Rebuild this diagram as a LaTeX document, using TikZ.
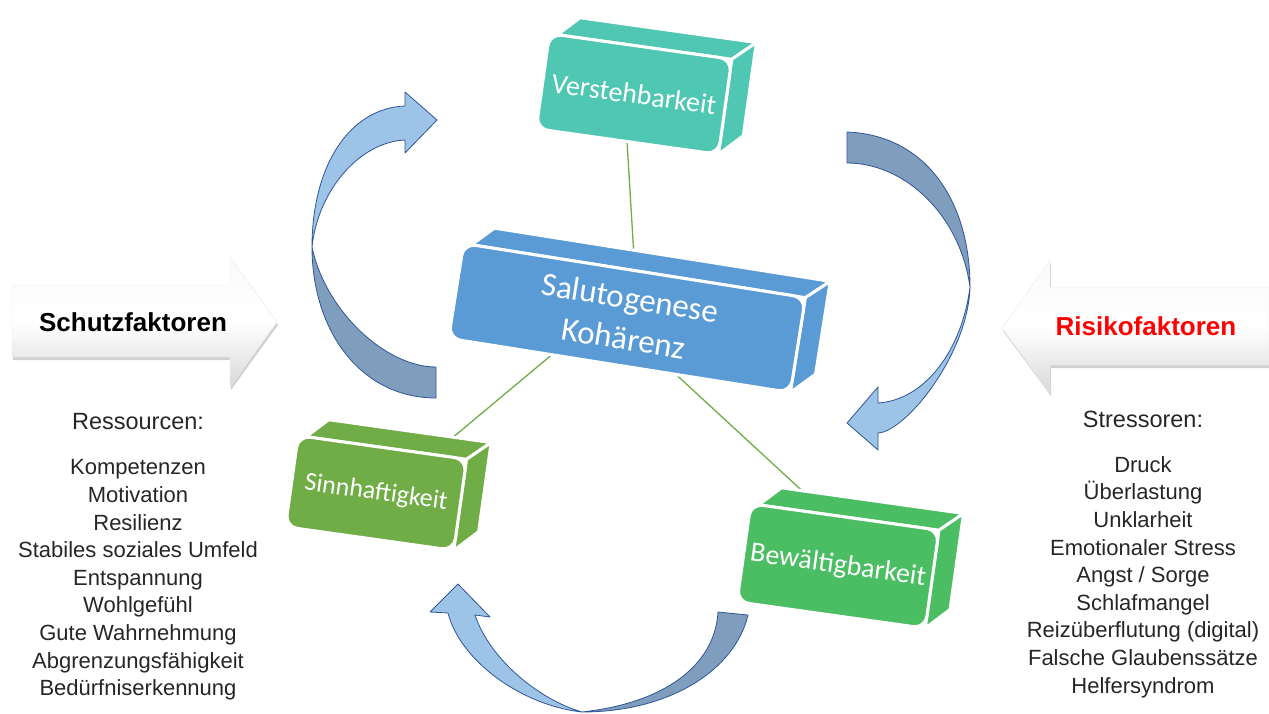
\documentclass[tikz,border=0pt]{standalone}
\usepackage{fontspec}
\setmainfont{Liberation Sans}
\newfontfamily\blockfont{Carlito}
\usepackage{tikz}
\usetikzlibrary{calc}
\usetikzlibrary{shadows}
\usetikzlibrary{backgrounds}
\definecolor{vteal}{RGB}{80,199,178}
\definecolor{sblue}{RGB}{91,155,213}
\definecolor{sgreen}{RGB}{112,173,71}
\definecolor{bgreen}{RGB}{75,190,100}
\definecolor{arrowlight}{RGB}{157,195,230}
\definecolor{arrowdark}{RGB}{127,158,190}
\definecolor{arrowline}{RGB}{47,85,151}
\tikzset{
  block/.style={draw=white,line width=3pt,rounded corners=12pt,inner sep=0pt,text=white,align=center},
  link/.style={draw=sgreen,line width=1.3pt},
  lightpart/.style={fill=arrowlight,draw=arrowline,line width=0.8pt,line join=round},
  darkpart/.style={fill=arrowdark,draw=arrowline,line width=0.8pt,line join=round},
  bigarrow/.style={top color=black!2,bottom color=black!15,middle color=white,draw=black!8,
    drop shadow={shadow xshift=1pt,shadow yshift=-3pt,opacity=.3,fill=black!60}},
  factor/.style={font=\bfseries\fontsize{26}{30}\selectfont},
  listtext/.style={align=center,text=black!85,font=\fontsize{22}{27.6}\selectfont}
}
\newcommand{\createblock}[8]{%
  \begin{scope}[shift={(#2)},rotate=#3]
    \filldraw[#6,draw=white,line width=3pt] (-#4/2+8,-#5/2) -- (-#4/2+28,-#5/2-20) -- (#4/2+22,-#5/2-20) -- (#4/2,-#5/2) -- cycle;
    \filldraw[#6,draw=white,line width=3pt] (#4/2,-#5/2) -- (#4/2+22,-#5/2-20) -- (#4/2+22,#5/2-22) -- (#4/2,#5/2) -- cycle;
    \node[block,fill=#6,minimum width=#4,minimum height=#5,transform shape,font={\blockfont#7}] (#1) at (0,0) {#8};
  \end{scope}}

\begin{document}
\begin{tikzpicture}[x=1pt,y=-1pt]
    \useasboundingbox (0,0) rectangle (1269,714);
    % Schutz- und Risikofaktoren
    \path[bigarrow] (12,285) -- (230,285) -- (230,257) -- (277,322) -- (230,387) -- (230,357) -- (12,357) -- cycle;
    \path[bigarrow] (1269,287) -- (1050,287) -- (1050,260) -- (1002,328) -- (1050,393) -- (1050,365) -- (1269,365) -- cycle;
    \node[factor] (schutz) at (133,322) {Schutzfaktoren};
    \node[factor,text=red] (risiko) at (1146,326) {Risikofaktoren};
    % kreislauf
    \filldraw[darkpart] (436,398) .. controls (360,398) and (312,330) .. (312,247) .. controls (325,310) and (385,367) .. (436,367) -- cycle;
    \filldraw[lightpart] (312,247) .. controls (312,165) and (350,108) .. (405,106) -- (405,92) -- (437,120) -- (405,153) -- (405,140) .. controls (360,142) and (318,190) .. (312,247) -- cycle;
    \filldraw[darkpart] (847,132) .. controls (925,135) and (970,200) .. (970,287) .. controls (960,215) and (905,163) .. (847,163) -- cycle;
    \filldraw[lightpart] (970,287) .. controls (968,355) and (905,432) .. (878,433) -- (878,450) -- (847,423) -- (878,387) -- (878,403) .. controls (925,400) and (962,350) .. (970,287) -- cycle;
    \filldraw[darkpart] (748,615) .. controls (735,670) and (670,712) .. (582,712) .. controls (665,703) and (715,665) .. (718,612) -- cycle;
    \filldraw[lightpart] (582,712) .. controls (520,705) and (460,660) .. (448,613) -- (430,612) -- (458,584) -- (490,617) -- (475,615) .. controls (490,660) and (540,700) .. (582,712) -- cycle;
    % bloecke
    \createblock{verst}{634,94}{-8}{184}{96}{vteal}{\fontsize{28}{32}\selectfont}{Verstehbarkeit}
    \createblock{saluto}{627,318}{-9}{346}{96}{sblue}{\fontsize{33}{41}\selectfont}{Salutogenese\\Kohärenz}
    \createblock{sinn}{376,493}{-8}{170}{92}{sgreen}{\fontsize{26}{30}\selectfont}{Sinnhaftigkeit}
    \createblock{bewael}{838,566}{-8}{190}{99}{bgreen}{\fontsize{28}{32}\selectfont}{Bewältigbarkeit}
    \begin{scope}[on background layer]
        \draw[link] (verst.south) -- (saluto.north);
        \draw[link] ($(saluto.south west)!0.3!(saluto.south east)$) -- ($(sinn.north)!0.6!(sinn.north east)$);
        \draw[link] ($(saluto.south west)!0.67!(saluto.south east)$) -- ($(bewael.north west)!0.4!(bewael.north east)$);
    \end{scope}
    % listen
    \node[listtext,font=\fontsize{23.5}{28}\selectfont] (res) at (138,422) {Ressourcen:};
    \node[listtext] (reslist) at (138,580) {Kompetenzen\\Motivation\\Resilienz\\Stabiles soziales Umfeld\\Entspannung\\Wohlgefühl\\Gute Wahrnehmung\\Abgrenzungsfähigkeit\\Bedürfniserkennung};
    \node[listtext,font=\fontsize{23.5}{28}\selectfont] (stress) at (1143,419) {Stressoren:};
    \node[listtext] (stresslist) at (1143,577) {Druck\\Überlastung\\Unklarheit\\Emotionaler Stress\\Angst / Sorge\\Schlafmangel\\Reizüberflutung (digital)\\Falsche Glaubenssätze\\Helfersyndrom};
\end{tikzpicture}
\end{document}
